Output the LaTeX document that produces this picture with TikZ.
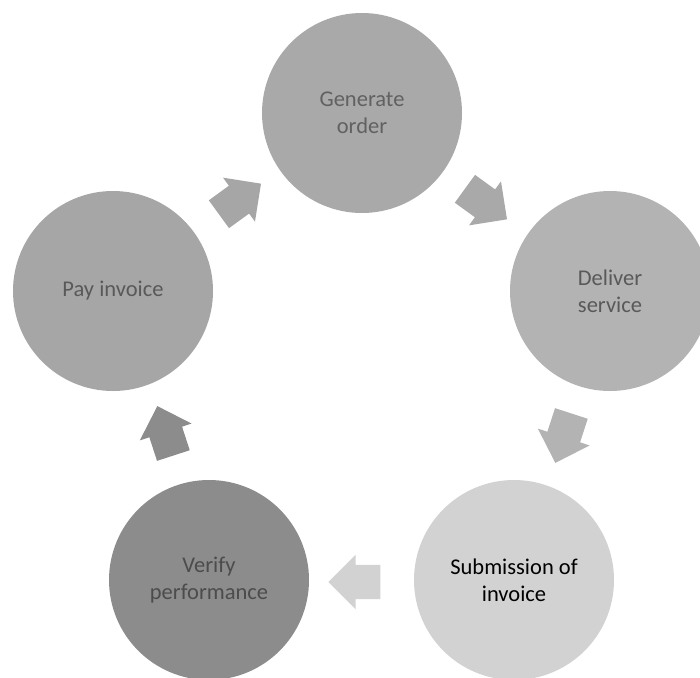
\documentclass[tikz,border=0pt]{standalone}
\usepackage{fontspec}
\setmainfont{Carlito}
\usetikzlibrary{shapes.arrows}
\definecolor{cA}{HTML}{A9A9A9}
\definecolor{cB}{HTML}{B3B3B3}
\definecolor{cC}{HTML}{D2D2D2}
\definecolor{cD}{HTML}{8C8C8C}
\definecolor{cE}{HTML}{A6A6A6}
\tikzset{
  stage/.style={circle, minimum size=200pt, inner sep=0pt, draw=none,
    align=center, font=\fontsize{22.5}{27}\selectfont},
  blockarrow/.style={single arrow, draw=none, inner sep=0pt,
    text height=17pt, text depth=17pt, text width=0pt,
    minimum height=52pt, single arrow head extend=10pt}
}
\begin{document}
\begin{tikzpicture}[x=1pt,y=-1pt]
\useasboundingbox (0,0) rectangle (700,677);
\begin{scope}
\clip (0,0) rectangle (700,677);
\node[stage, fill=cA, text=black!62] (gen) at (362,113) {Generate\\order};
\node[stage, fill=cB, text=black!65] (del) at (610,291) {Deliver\\service};
\node[stage, fill=cC, text=black] (sub) at (514,580) {Submission of\\invoice};
\node[stage, fill=cD, text=black!70] (ver) at (209,580) {Verify\\performance};
\node[stage, fill=cE, text=black!65] (pay) at (113,291) {Pay invoice};
\end{scope}
\node[blockarrow, fill=cE, rotate=36] (a1) at (233,204) {};
\node[blockarrow, fill=cA, rotate=-36] (a2) at (479,199) {};
\node[blockarrow, fill=cB, rotate=-108] (a3) at (566,430) {};
\node[blockarrow, fill=cC, rotate=180] (a4) at (363,582) {};
\node[blockarrow, fill=cD, rotate=108] (a5) at (168,439) {};
\end{tikzpicture}
\end{document}
